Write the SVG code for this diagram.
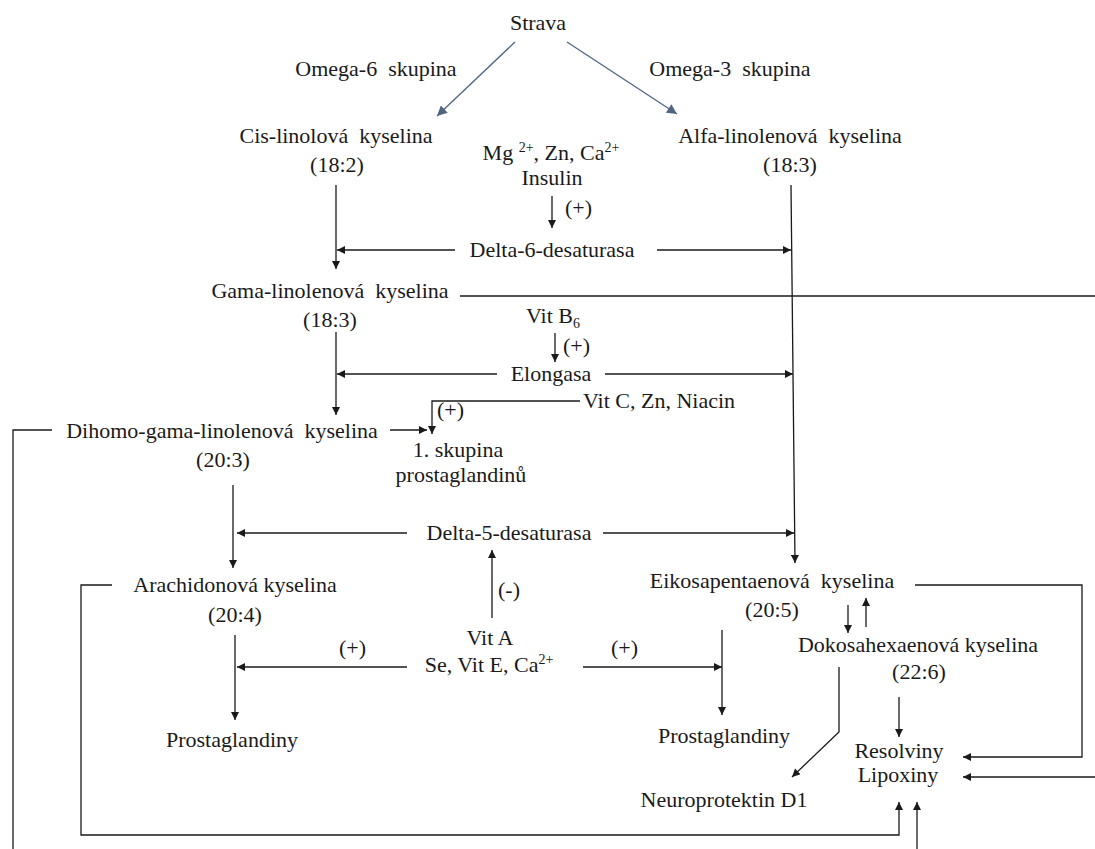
<svg xmlns="http://www.w3.org/2000/svg" width="1095" height="849" viewBox="0 0 1095 849" xml:space="preserve">
<style>
text{font-family:"Liberation Serif","Times New Roman",serif;font-size:22px;fill:#1a1a1a;white-space:pre}
.m{text-anchor:middle}
.c{fill:none;stroke:#1a1a1a;stroke-width:1.3}
.b{fill:none;stroke:#4f6580;stroke-width:1.3}
.sup{font-size:14px}
</style>
<defs>
<marker id="ah" viewBox="0 0 10 10" refX="10" refY="5" markerWidth="9" markerHeight="8" markerUnits="userSpaceOnUse" orient="auto"><path d="M0,0L10,5L0,10z" fill="#1a1a1a"/></marker>
<marker id="ab" viewBox="0 0 10 10" refX="10" refY="5" markerWidth="13" markerHeight="10" markerUnits="userSpaceOnUse" orient="auto"><path d="M0,0L10,5L0,10z" fill="#4f6580"/></marker>
</defs>
<rect width="1095" height="849" fill="#fff"/>
<g id="connectors">
<line class="b" x1="515" y1="42" x2="437" y2="116" marker-end="url(#ab)"/>
<line class="b" x1="567" y1="42" x2="677" y2="114" marker-end="url(#ab)"/>
<line class="c" x1="336" y1="185" x2="336" y2="269" marker-end="url(#ah)"/>
<line class="c" x1="455" y1="250" x2="337" y2="250" marker-end="url(#ah)"/>
<line class="c" x1="657" y1="250" x2="791" y2="250" marker-end="url(#ah)"/>
<line class="c" x1="552" y1="196" x2="552" y2="228" marker-end="url(#ah)"/>
<line class="c" x1="791" y1="185" x2="795" y2="563" marker-end="url(#ah)"/>
<line class="c" x1="460" y1="296" x2="1095" y2="296"/>
<line class="c" x1="336" y1="332" x2="336" y2="415" marker-end="url(#ah)"/>
<line class="c" x1="555" y1="333" x2="555" y2="362" marker-end="url(#ah)"/>
<line class="c" x1="497" y1="374" x2="337" y2="374" marker-end="url(#ah)"/>
<line class="c" x1="605" y1="374" x2="793" y2="374" marker-end="url(#ah)"/>
<polyline class="c" points="580,401 432,401 432,434" marker-end="url(#ah)"/>
<line class="c" x1="390" y1="430" x2="427" y2="430" marker-end="url(#ah)"/>
<polyline class="c" points="52,430 13,430 13,849"/>
<line class="c" x1="233" y1="485" x2="233" y2="568" marker-end="url(#ah)"/>
<line class="c" x1="407" y1="533" x2="237" y2="533" marker-end="url(#ah)"/>
<line class="c" x1="603" y1="533" x2="794" y2="533" marker-end="url(#ah)"/>
<line class="c" x1="492" y1="618" x2="492" y2="550" marker-end="url(#ah)"/>
<polyline class="c" points="112,585 81,585 81,835 899,835 899,802" marker-end="url(#ah)"/>
<line class="c" x1="235" y1="635" x2="235" y2="720" marker-end="url(#ah)"/>
<line class="c" x1="407" y1="667" x2="237" y2="667" marker-end="url(#ah)"/>
<line class="c" x1="583" y1="667" x2="722" y2="667" marker-end="url(#ah)"/>
<line class="c" x1="722" y1="630" x2="722" y2="715" marker-end="url(#ah)"/>
<line class="c" x1="848" y1="605" x2="848" y2="633" marker-end="url(#ah)"/>
<line class="c" x1="866" y1="627" x2="866" y2="598" marker-end="url(#ah)"/>
<polyline class="c" points="839,667 839,732 792,777" marker-end="url(#ah)"/>
<line class="c" x1="899" y1="697" x2="899" y2="737" marker-end="url(#ah)"/>
<polyline class="c" points="915,585 1082,585 1082,757 963,757" marker-end="url(#ah)"/>
<line class="c" x1="1095" y1="777" x2="963" y2="777" marker-end="url(#ah)"/>
<line class="c" x1="917" y1="849" x2="917" y2="802" marker-end="url(#ah)"/>
</g>
<g id="strava"><text class="m" x="538" y="30">Strava</text></g>
<g id="omega6"><text class="m" x="376" y="76">Omega-6  skupina</text></g>
<g id="omega3"><text class="m" x="730" y="76">Omega-3  skupina</text></g>
<g id="cis"><text class="m" x="336" y="143">Cis-linolová  kyselina</text><text class="m" x="337" y="172">(18:2)</text></g>
<g id="alfa"><text class="m" x="790" y="143">Alfa-linolenová  kyselina</text><text class="m" x="790" y="172">(18:3)</text></g>
<g id="mg"><text class="m" x="551" y="160">Mg <tspan class="sup" dy="-8">2+</tspan><tspan dy="8">, Zn, Ca</tspan><tspan class="sup" dy="-8">2+</tspan></text><text class="m" x="552" y="185">Insulin</text><text x="565" y="215">(+)</text></g>
<g id="delta6"><text class="m" x="552" y="257">Delta-6-desaturasa</text></g>
<g id="gama"><text class="m" x="330" y="298">Gama-linolenová  kyselina</text><text class="m" x="330" y="327">(18:3)</text></g>
<g id="vitb6"><text class="m" x="553" y="323">Vit B<tspan class="sup" dy="5">6</tspan></text><text x="563" y="353">(+)</text></g>
<g id="elongasa"><text class="m" x="551" y="381">Elongasa</text></g>
<g id="vitc"><text x="583" y="408">Vit C, Zn, Niacin</text><text x="437" y="417">(+)</text></g>
<g id="dihomo"><text class="m" x="222" y="438">Dihomo-gama-linolenová  kyselina</text><text class="m" x="223" y="467">(20:3)</text></g>
<g id="skupina1"><text class="m" x="458" y="457">1. skupina</text><text class="m" x="461" y="482">prostaglandinů</text></g>
<g id="delta5"><text class="m" x="509" y="540">Delta-5-desaturasa</text></g>
<g id="eik"><text class="m" x="772" y="588">Eikosapentaenová  kyselina</text><text class="m" x="772" y="617">(20:5)</text></g>
<g id="arach"><text class="m" x="235" y="592">Arachidonová kyselina</text><text class="m" x="235" y="622">(20:4)</text></g>
<g id="vita"><text x="498" y="597">(-)</text><text class="m" x="490" y="645">Vit A</text><text class="m" x="489" y="672">Se, Vit E, Ca<tspan class="sup" dy="-8">2+</tspan></text><text x="339" y="655">(+)</text><text x="611" y="655">(+)</text></g>
<g id="prost1"><text class="m" x="232" y="747">Prostaglandiny</text></g>
<g id="prost2"><text class="m" x="724" y="743">Prostaglandiny</text></g>
<g id="dha"><text class="m" x="918" y="652">Dokosahexaenová kyselina</text><text class="m" x="919" y="679">(22:6)</text></g>
<g id="resolviny"><text class="m" x="899" y="758">Resolviny</text><text class="m" x="898" y="782">Lipoxiny</text></g>
<g id="neuro"><text class="m" x="724" y="807">Neuroprotektin D1</text></g>
</svg>
